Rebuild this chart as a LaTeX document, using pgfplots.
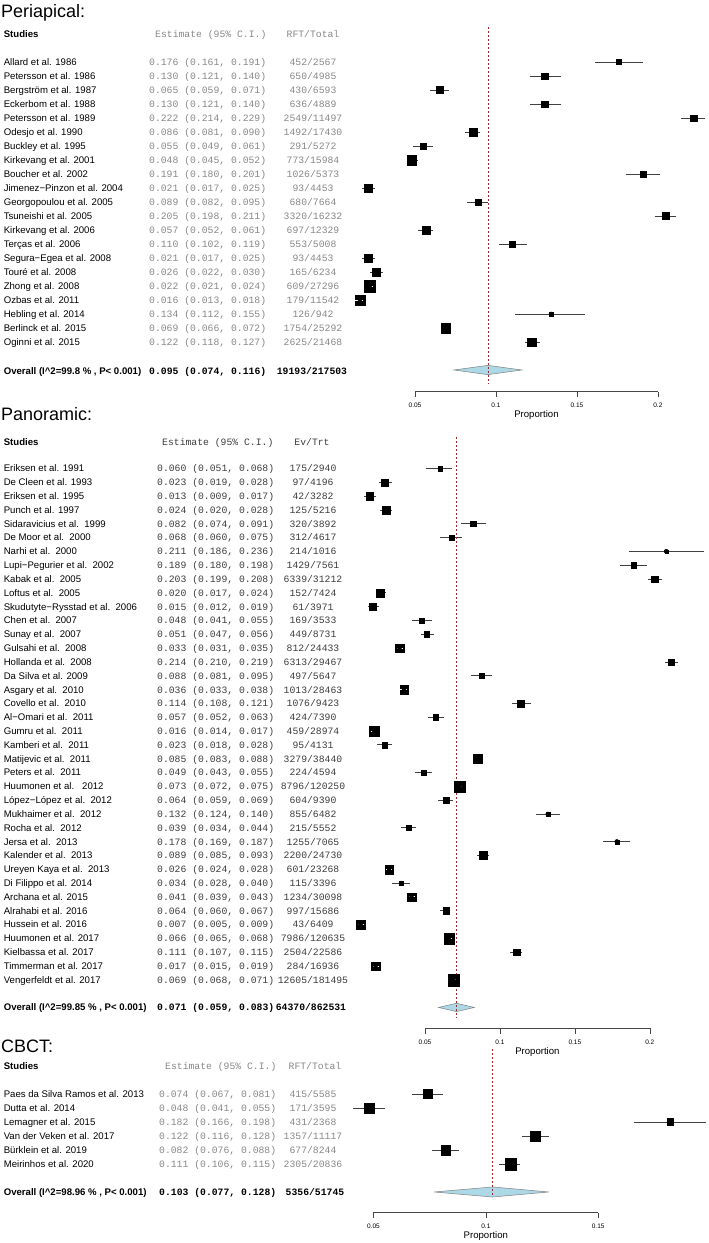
\documentclass[border=0pt]{standalone}
\usepackage{fontspec}
\setmainfont{Liberation Sans}
\newfontfamily\monof{Liberation Mono}
\usepackage{pgfplots}
\usepackage{pgfplotstable}
\pgfplotsset{compat=1.18}
\definecolor{diam}{RGB}{173,216,230}
\definecolor{lgray}{RGB}{135,135,135}
\definecolor{dgray}{RGB}{60,60,60}
\definecolor{axgray}{RGB}{70,70,70}
\newcommand\nf{\fontsize{9.6}{10}\selectfont}
\newcommand\mf{\monof\fontsize{9.75}{10}\selectfont}
\newcommand\tf{\fontsize{18}{20}\selectfont}

\pgfplotstableread[col sep=semicolon]{
r;est;lo;hi;sz;w;name;etxt;ntxt
1;0.176;0.161;0.191;5;0;Allard et al. 1986;0.176 (0.161, 0.191);452/2567
2;0.130;0.121;0.140;6.3;0;Petersson et al. 1986;0.130 (0.121, 0.140);650/4985
3;0.065;0.059;0.071;7;0;Bergström et al. 1987;0.065 (0.059, 0.071);430/6593
4;0.130;0.121;0.140;6.3;0;Eckerbom et al. 1988;0.130 (0.121, 0.140);636/4889
5;0.222;0.214;0.229;6.3;0;Petersson et al. 1989;0.222 (0.214, 0.229);2549/11497
6;0.086;0.081;0.090;8.3;0;Odesjo et al. 1990;0.086 (0.081, 0.090);1492/17430
7;0.055;0.049;0.061;6.7;0;Buckley et al. 1995;0.055 (0.049, 0.061);291/5272
8;0.048;0.045;0.052;9.3;0;Kirkevang et al. 2001;0.048 (0.045, 0.052);773/15984
9;0.191;0.180;0.201;6.3;0;Boucher et al. 2002;0.191 (0.180, 0.201);1026/5373
10;0.021;0.017;0.025;8.3;0;Jimenez−Pinzon et al. 2004;0.021 (0.017, 0.025);93/4453
11;0.089;0.082;0.095;6.7;0;Georgopoulou et al. 2005;0.089 (0.082, 0.095);680/7664
12;0.205;0.198;0.211;7.2;0;Tsuneishi et al. 2005;0.205 (0.198, 0.211);3320/16232
13;0.057;0.052;0.061;7.7;0;Kirkevang et al. 2006;0.057 (0.052, 0.061);697/12329
14;0.110;0.102;0.119;5.3;0;Terças et al. 2006;0.110 (0.102, 0.119);553/5008
15;0.021;0.017;0.025;8;0;Segura−Egea et al. 2008;0.021 (0.017, 0.025);93/4453
16;0.026;0.022;0.030;8.3;0;Touré et al. 2008;0.026 (0.022, 0.030);165/6234
17;0.022;0.021;0.024;11.7;1;Zhong et al. 2008;0.022 (0.021, 0.024);609/27296
18;0.016;0.013;0.018;10.3;1;Ozbas et al. 2011;0.016 (0.013, 0.018);179/11542
19;0.134;0.112;0.155;4.5;0;Hebling et al. 2014;0.134 (0.112, 0.155);126/942
20;0.069;0.066;0.072;9.3;0;Berlinck et al. 2015;0.069 (0.066, 0.072);1754/25292
21;0.122;0.118;0.127;8.5;0;Oginni et al. 2015;0.122 (0.118, 0.127);2625/21468
}\peri

\pgfplotstableread[col sep=semicolon]{
r;est;lo;hi;sz;w;name;etxt;ntxt
1;0.060;0.051;0.068;4.7;0;Eriksen et al. 1991;0.060 (0.051, 0.068);175/2940
2;0.023;0.019;0.028;7.3;0;De Cleen et al. 1993;0.023 (0.019, 0.028);97/4196
3;0.013;0.009;0.017;7.3;0;Eriksen et al. 1995;0.013 (0.009, 0.017);42/3282
4;0.024;0.020;0.028;7.3;0;Punch et al. 1997;0.024 (0.020, 0.028);125/5216
5;0.082;0.074;0.091;5.3;0;Sidaravicius et al.~~1999;0.082 (0.074, 0.091);320/3892
6;0.068;0.060;0.075;5;0;De Moor et al.~~2000;0.068 (0.060, 0.075);312/4617
7;0.211;0.186;0.236;3;0;Narhi et al.~~2000;0.211 (0.186, 0.236);214/1016
8;0.189;0.180;0.198;5.4;0;Lupi−Pegurier et al.~~2002;0.189 (0.180, 0.198);1429/7561
9;0.203;0.199;0.208;6.8;0;Kabak et al.~~2005;0.203 (0.199, 0.208);6339/31212
10;0.020;0.017;0.024;8;0;Loftus et al.~~2005;0.020 (0.017, 0.024);152/7424
11;0.015;0.012;0.019;7.7;0;Skudutyte−Rysstad et al.~~2006;0.015 (0.012, 0.019);61/3971
12;0.048;0.041;0.055;5;0;Chen et al.~~2007;0.048 (0.041, 0.055);169/3533
13;0.051;0.047;0.056;5.7;0;Sunay et al.~~2007;0.051 (0.047, 0.056);449/8731
14;0.033;0.031;0.035;8.7;1;Gulsahi et al.~~2008;0.033 (0.031, 0.035);812/24433
15;0.214;0.210;0.219;5.9;0;Hollanda et al.~~2008;0.214 (0.210, 0.219);6313/29467
16;0.088;0.081;0.095;5;0;Da Silva et al. 2009;0.088 (0.081, 0.095);497/5647
17;0.036;0.033;0.038;8.7;1;Asgary et al.~~2010;0.036 (0.033, 0.038);1013/28463
18;0.114;0.108;0.121;6.8;0;Covello et al.~~2010;0.114 (0.108, 0.121);1076/9423
19;0.057;0.052;0.063;5.3;0;Al−Omari et al.~~2011;0.057 (0.052, 0.063);424/7390
20;0.016;0.014;0.017;10.3;1;Gumru et al.~~2011;0.016 (0.014, 0.017);459/28974
21;0.023;0.018;0.028;5.7;0;Kamberi et al.~~2011;0.023 (0.018, 0.028);95/4131
22;0.085;0.083;0.088;8.3;0;Matijevic et al.~~2011;0.085 (0.083, 0.088);3279/38440
23;0.049;0.043;0.055;4.7;0;Peters et al.~~2011;0.049 (0.043, 0.055);224/4594
24;0.073;0.072;0.075;11;1;Huumonen et al.~~~2012;0.073 (0.072, 0.075);8796/120250
25;0.064;0.059;0.069;6;0;López−López et al.~~2012;0.064 (0.059, 0.069);604/9390
26;0.132;0.124;0.140;4.5;0;Mukhaimer et al.~~2012;0.132 (0.124, 0.140);855/6482
27;0.039;0.034;0.044;5.3;0;Rocha et al.~~2012;0.039 (0.034, 0.044);215/5552
28;0.178;0.169;0.187;4;0;Jersa et al.~~2013;0.178 (0.169, 0.187);1255/7065
29;0.089;0.085;0.093;7.7;0;Kalender et al.~~2013;0.089 (0.085, 0.093);2200/24730
30;0.026;0.024;0.028;8.7;1;Ureyen Kaya et al.~~2013;0.026 (0.024, 0.028);601/23268
31;0.034;0.028;0.040;4.7;0;Di Filippo et al. 2014;0.034 (0.028, 0.040);115/3396
32;0.041;0.039;0.043;8.3;1;Archana et al. 2015;0.041 (0.039, 0.043);1234/30098
33;0.064;0.060;0.067;6.3;0;Alrahabi et al. 2016;0.064 (0.060, 0.067);997/15686
34;0.007;0.005;0.009;9;1;Hussein et al. 2016;0.007 (0.005, 0.009);43/6409
35;0.066;0.065;0.068;10.7;1;Huumonen et al. 2017;0.066 (0.065, 0.068);7986/120635
36;0.111;0.107;0.115;6.5;0;Kielbassa et al. 2017;0.111 (0.107, 0.115);2504/22586
37;0.017;0.015;0.019;8.7;1;Timmerman et al. 2017;0.017 (0.015, 0.019);284/16936
38;0.069;0.068;0.071;11.7;1;Vengerfeldt et al. 2017;0.069 (0.068, 0.071);12605/181495
}\pano

\pgfplotstableread[col sep=semicolon]{
r;est;lo;hi;sz;w;name;etxt;ntxt
1;0.074;0.067;0.081;9;0;Paes da Silva Ramos et al. 2013;0.074 (0.067, 0.081);415/5585
2;0.048;0.041;0.055;9.3;0;Dutta et al. 2014;0.048 (0.041, 0.055);171/3595
3;0.182;0.166;0.198;6.8;0;Lemagner et al. 2015;0.182 (0.166, 0.198);431/2368
4;0.122;0.116;0.128;10.4;0;Van der Veken et al. 2017;0.122 (0.116, 0.128);1357/11117
5;0.082;0.076;0.088;9.3;0;Bürklein et al. 2019;0.082 (0.076, 0.088);677/8244
6;0.111;0.106;0.115;11.5;0;Meirinhos et al. 2020;0.111 (0.106, 0.115);2305/20836
}\cbct

\pgfplotsset{
  fp/.style={
    scale only axis, clip=false, anchor=north west, clip marker paths=true,
    axis y line=none, axis x line*=bottom,
    tick align=outside, major tick length=5.5pt,
    x axis line style={draw=axgray, line width=0.6pt, -},
    every tick/.style={draw=axgray, line width=0.6pt},
    ytick=\empty,
    xticklabel style={font=\fontsize{6.5}{7}\selectfont, text=black, anchor=center, yshift=-8.5pt},
    xlabel={Proportion},
    xlabel style={font=\fontsize{9.6}{10}\selectfont, at={(axis description cs:0.5,0)}, anchor=center, yshift=-23.5pt},
  },
  cistyle/.style={only marks, mark=none, error bars/x dir=both, error bars/x explicit,
    error bars/error mark=none, error bars/error bar style={draw=black!75, line width=0.9pt}},
  boxstyle/.style={scatter, only marks, mark=square*, mark options={line width=0.2pt},
    scatter/use mapped color={draw=black, fill=black},
    visualization depends on={0.5*\thisrow{sz} \as \bsz},
    scatter/@pre marker code/.append style={/tikz/mark size=\bsz}},
  whitestyle/.style={only marks, mark=none, error bars/x dir=both, error bars/x explicit,
    error bars/error mark=none, error bars/error bar style={draw=white, line width=0.9pt, line cap=butt}},
  txt/.style={only marks, mark=none, nodes near coords={\pgfplotspointmeta}, point meta=explicit symbolic,
    every node near coord/.append style={inner sep=0pt, text height=6.8pt, text depth=0pt, #1}},
}
\tikzset{hd/.style={inner sep=0pt, text height=6.8pt, text depth=0pt}}

\begin{document}
\begin{tikzpicture}
\path[use as bounding box] (0,0) rectangle (709pt,-1243pt);

% ---------------- Periapical ----------------
\begin{axis}[fp, at={(415pt,-26.7pt)}, width=242.9pt, height=365pt,
  xmin=0.05, xmax=0.2, ymin=-24.55, ymax=1.52,
  xtick={0.05,0.1,0.15,0.2}, xticklabels={0.05,0.1,0.15,0.2}]
\addplot[cistyle] table[x=est, y expr=-\thisrow{r}, x error plus expr=\thisrow{hi}-\thisrow{est}, x error minus expr=\thisrow{est}-\thisrow{lo}]{\peri};
\addplot[fill=diam, draw=gray, line width=0.5pt] coordinates {(0.074,-23) (0.095,-22.67) (0.116,-23) (0.095,-23.33)} --cycle;
\addplot[red, line width=0.6pt, dash pattern=on 2pt off 2pt] coordinates {(0.095,1.52) (0.095,-24.0)};
\addplot[boxstyle] table[x=est, y expr=-\thisrow{r}]{\peri};
\addplot[whitestyle] table[x=est, y expr=-\thisrow{r}, x error plus expr=\thisrow{w}*(\thisrow{hi}-\thisrow{est}), x error minus expr=\thisrow{w}*(\thisrow{est}-\thisrow{lo})]{\peri};
\addplot[txt={anchor=west, xshift=-411.4pt, font=\nf, text=black}] table[x expr=0.05, y expr=-\thisrow{r}, meta=name]{\peri};
\addplot[txt={anchor=west, xshift=-266pt, font=\mf, text=lgray}] table[x expr=0.05, y expr=-\thisrow{r}, meta=etxt]{\peri};
\addplot[txt={anchor=center, xshift=-102pt, font=\mf, text=lgray}] table[x expr=0.05, y expr=-\thisrow{r}, meta=ntxt]{\peri};
\end{axis}

% ---------------- Panoramic ----------------
\begin{axis}[fp, at={(425pt,-436.7pt)}, width=224.8pt, height=591.6pt,
  xmin=0.05, xmax=0.2, ymin=-41.51, ymax=1.30,
  xtick={0.05,0.1,0.15,0.2}, xticklabels={0.05,0.1,0.15,0.2}]
\addplot[cistyle] table[x=est, y expr=-\thisrow{r}, x error plus expr=\thisrow{hi}-\thisrow{est}, x error minus expr=\thisrow{est}-\thisrow{lo}]{\pano};
\addplot[fill=diam, draw=gray, line width=0.5pt] coordinates {(0.059,-40) (0.071,-39.7) (0.083,-40) (0.071,-40.3)} --cycle;
\addplot[red, line width=0.6pt, dash pattern=on 2pt off 2pt] coordinates {(0.071,1.30) (0.071,-40.8)};
\addplot[boxstyle] table[x=est, y expr=-\thisrow{r}]{\pano};
\addplot[whitestyle] table[x=est, y expr=-\thisrow{r}, x error plus expr=\thisrow{w}*(\thisrow{hi}-\thisrow{est}), x error minus expr=\thisrow{w}*(\thisrow{est}-\thisrow{lo})]{\pano};
\addplot[txt={anchor=west, xshift=-421.4pt, font=\nf, text=black}] table[x expr=0.05, y expr=-\thisrow{r}, meta=name]{\pano};
\addplot[txt={anchor=west, xshift=-268pt, font=\mf, text=dgray}] table[x expr=0.05, y expr=-\thisrow{r}, meta=etxt]{\pano};
\addplot[txt={anchor=center, xshift=-112pt, font=\mf, text=dgray}] table[x expr=0.05, y expr=-\thisrow{r}, meta=ntxt]{\pano};
\end{axis}

% ---------------- CBCT ----------------
\begin{axis}[fp, at={(373.5pt,-1049.3pt)}, width=224.7pt, height=163.4pt,
  xmin=0.05, xmax=0.15, ymin=-9.48, ymax=2.19,
  xtick={0.05,0.1,0.15}, xticklabels={0.05,0.1,0.15}]
\addplot[cistyle] table[x=est, y expr=-\thisrow{r}, x error plus expr=\thisrow{hi}-\thisrow{est}, x error minus expr=\thisrow{est}-\thisrow{lo}]{\cbct};
\addplot[fill=diam, draw=gray, line width=0.5pt] coordinates {(0.077,-8) (0.103,-7.64) (0.128,-8) (0.103,-8.36)} --cycle;
\addplot[red, line width=0.6pt, dash pattern=on 2pt off 2pt] coordinates {(0.103,2.19) (0.103,-8.36)};
\addplot[boxstyle] table[x=est, y expr=-\thisrow{r}]{\cbct};
\addplot[txt={anchor=west, xshift=-369.9pt, font=\nf, text=black}] table[x expr=0.05, y expr=-\thisrow{r}, meta=name]{\cbct};
\addplot[txt={anchor=west, xshift=-214.5pt, font=\mf, text=lgray}] table[x expr=0.05, y expr=-\thisrow{r}, meta=etxt]{\cbct};
\addplot[txt={anchor=center, xshift=-60.5pt, font=\mf, text=lgray}] table[x expr=0.05, y expr=-\thisrow{r}, meta=ntxt]{\cbct};
\end{axis}

% titles, headers, overall rows
\node[anchor=base west, inner sep=0pt, font=\tf] at (1pt,-17pt) {Periapical:};
\node[hd, anchor=west, font=\nf\bfseries] at (3.6pt,-34pt) {Studies};
\node[hd, anchor=west, font=\mf, text=lgray] at (155pt,-34pt) {Estimate (95\% C.I.)};
\node[hd, anchor=center, font=\mf, text=lgray] at (313pt,-34pt) {RFT/Total};
\node[hd, anchor=west, font=\nf\bfseries] at (3.6pt,-370.7pt) {Overall (I\textasciicircum 2=99.8 \% , P< 0.001)};
\node[hd, anchor=west, font=\mf\bfseries] at (149pt,-370.7pt) {0.095 (0.074, 0.116)};
\node[hd, anchor=center, font=\mf\bfseries] at (312pt,-370.7pt) {19193/217503};

\node[anchor=base west, inner sep=0pt, font=\tf] at (1pt,-420.5pt) {Panoramic:};
\node[hd, anchor=west, font=\nf\bfseries] at (3.6pt,-441.7pt) {Studies};
\node[hd, anchor=west, font=\mf, text=dgray] at (162pt,-441.7pt) {Estimate (95\% C.I.)};
\node[hd, anchor=center, font=\mf, text=dgray] at (312pt,-441.7pt) {Ev/Trt};
\node[hd, anchor=west, font=\nf\bfseries] at (3.6pt,-1007.5pt) {Overall (I\textasciicircum 2=99.85 \% , P< 0.001)};
\node[hd, anchor=west, font=\mf\bfseries] at (157pt,-1007.5pt) {0.071 (0.059, 0.083)};
\node[hd, anchor=center, font=\mf\bfseries] at (311pt,-1007.5pt) {64370/862531};

\node[anchor=base west, inner sep=0pt, font=\tf] at (1pt,-1052.5pt) {CBCT:};
\node[hd, anchor=west, font=\nf\bfseries] at (3.6pt,-1065.7pt) {Studies};
\node[hd, anchor=west, font=\mf, text=lgray] at (165pt,-1065.7pt) {Estimate (95\% C.I.)};
\node[hd, anchor=center, font=\mf, text=lgray] at (315pt,-1065.7pt) {RFT/Total};
\node[hd, anchor=west, font=\nf\bfseries] at (3.6pt,-1192pt) {Overall (I\textasciicircum 2=98.96 \% , P< 0.001)};
\node[hd, anchor=west, font=\mf\bfseries] at (159pt,-1192pt) {0.103 (0.077, 0.128)};
\node[hd, anchor=center, font=\mf\bfseries] at (315pt,-1192pt) {5356/51745};
\end{tikzpicture}
\end{document}
